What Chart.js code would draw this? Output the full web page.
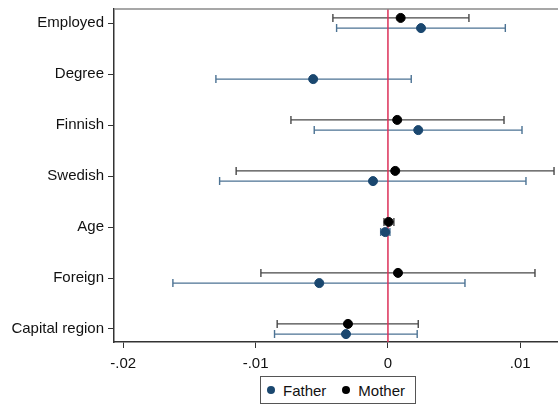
<!DOCTYPE html>
<html>
<head>
<meta charset="utf-8">
<script src="https://cdn.jsdelivr.net/npm/chart.js@4/dist/chart.umd.min.js"></script>
<style>
    body { margin: 0; background: #fff; }
    #wrap { position: relative; width: 558px; height: 406px; }
    #legend {
        position: absolute; left: 260px; top: 376px; width: 156px; height: 28px;
        border: 1px solid #555; box-sizing: border-box; background: #fff;
        font-family: Arial, 'Liberation Sans', sans-serif; font-size: 15px; color: #111;
        display: flex; align-items: center;
    }
    #legend .dot { display: inline-block; width: 8px; height: 8px; border-radius: 50%; margin: 0 8px 0 6px; }
    #legend .item { display: flex; align-items: center; margin-right: 10px; }
</style>
</head>
<body>
<div id="wrap">
    <canvas id="c" width="558" height="406"></canvas>
    <div id="legend">
        <span class="item"><span class="dot" style="background:#1a476f"></span>Father</span>
        <span class="item"><span class="dot" style="background:#000"></span>Mother</span>
    </div>
</div>
<script>
// Coefficient plot: father vs mother estimates with 95% CIs
const categories = ['Employed', 'Degree', 'Finnish', 'Swedish', 'Age', 'Foreign', 'Capital region'];

const fatherEst = [0.0025, -0.00565, 0.00229, -0.00113, -0.0002, -0.00519, -0.00317];
const fatherLo  = [-0.00388, -0.0130, -0.00557, -0.01272, -0.00055, -0.01625, -0.00857];
const fatherHi  = [0.00887, 0.00176, 0.01013, 0.01043, 0.00015, 0.00582, 0.00221];

// Degree has no mother estimate
const motherEst = [0.00096, null, 0.0007, 0.00055, 0.00005, 0.00076, -0.00302];
const motherLo  = [-0.00416, null, -0.00733, -0.01147, -0.0003, -0.0096, -0.00837];
const motherHi  = [0.00612, null, 0.00877, 0.01255, 0.00045, 0.01111, 0.00229];

const xTicks = [-0.02, -0.01, 0, 0.01];
const xTickLabels = ['-.02', '-.01', '0', '.01'];
const refLine = 0;

const FATHER = '#1a476f';
const FATHER_CI = '#4c7394';
const MOTHER = '#000000';
const MOTHER_CI = '#484848';
const OFFSET = 0.1;

function toPoints(est, shift) {
    const pts = [];
    est.forEach((v, i) => { if (v !== null) pts.push({ x: v, y: i + 1 + shift }); });
    return pts;
}

function toBars(est, lo, hi, shift) {
    const bars = [];
    est.forEach((v, i) => { if (v !== null) bars.push({ lo: lo[i], hi: hi[i], y: i + 1 + shift }); });
    return bars;
}

const ciSets = [
    { bars: toBars(motherEst, motherLo, motherHi, -OFFSET), color: MOTHER_CI },
    { bars: toBars(fatherEst, fatherLo, fatherHi, OFFSET), color: FATHER_CI }
];

const ciPlugin = {
    id: 'ci',
    beforeDatasetsDraw(chart) {
        const { ctx, chartArea, scales: { x, y } } = chart;
        ctx.save();
        ctx.beginPath();
        ctx.rect(chartArea.left, chartArea.top, chartArea.right - chartArea.left, chartArea.bottom - chartArea.top);
        ctx.clip();
        ctx.lineWidth = 1.4;
        ciSets.forEach(set => {
            ctx.strokeStyle = set.color;
            set.bars.forEach(b => {
                const x1 = x.getPixelForValue(b.lo), x2 = x.getPixelForValue(b.hi), py = y.getPixelForValue(b.y);
                ctx.beginPath();
                ctx.moveTo(x1, py); ctx.lineTo(x2, py);
                ctx.moveTo(x1, py - 4); ctx.lineTo(x1, py + 4);
                ctx.moveTo(x2, py - 4); ctx.lineTo(x2, py + 4);
                ctx.stroke();
            });
        });
        // reference line at zero
        const zx = x.getPixelForValue(refLine);
        ctx.strokeStyle = '#dc2f58';
        ctx.lineWidth = 1.5;
        ctx.beginPath();
        ctx.moveTo(zx, chartArea.top); ctx.lineTo(zx, chartArea.bottom);
        ctx.stroke();
        ctx.restore();
    },
    afterDraw(chart) {
        const { ctx, chartArea } = chart;
        ctx.save();
        ctx.strokeStyle = '#8a8a8a';
        ctx.lineWidth = 1.5;
        ctx.beginPath();
        ctx.moveTo(chartArea.left, chartArea.top);
        ctx.lineTo(chartArea.right, chartArea.top);
        ctx.stroke();
        ctx.restore();
    }
};

const tickFont = { family: 'Arial, "Liberation Sans", sans-serif', size: 15 };

new Chart(document.getElementById('c'), {
    type: 'scatter',
    data: {
        datasets: [
            { label: 'Father', data: toPoints(fatherEst, OFFSET), backgroundColor: FATHER, borderColor: FATHER, pointRadius: 4.5, pointHoverRadius: 4.5 },
            { label: 'Mother', data: toPoints(motherEst, -OFFSET), backgroundColor: MOTHER, borderColor: MOTHER, pointRadius: 4.5, pointHoverRadius: 4.5 }
        ]
    },
    options: {
        responsive: false,
        animation: false,
        layout: { autoPadding: false, padding: { top: 9, right: 0, left: 0, bottom: 0 } },
        plugins: { legend: { display: false }, tooltip: { enabled: false } },
        scales: {
            x: {
                type: 'linear',
                min: -0.0207,
                max: 0.01285,
                afterBuildTicks: s => { s.ticks = xTicks.map(v => ({ value: v })); },
                afterFit: s => { s.height = 64; s.paddingLeft = 0; s.paddingRight = 0; },
                ticks: {
                    color: '#111',
                    font: tickFont,
                    padding: 7,
                    maxRotation: 0,
                    callback: v => xTickLabels[xTicks.indexOf(v)]
                },
                grid: { display: true, drawOnChartArea: false, drawTicks: true, tickLength: 6, color: '#333', lineWidth: 1 },
                border: { color: '#333', width: 1.5 }
            },
            y: {
                type: 'linear',
                reverse: true,
                min: 0.725,
                max: 7.255,
                afterBuildTicks: s => { s.ticks = categories.map((c, i) => ({ value: i + 1 })); },
                afterFit: s => { s.width = 114; s.paddingTop = 0; s.paddingBottom = 0; },
                ticks: {
                    color: '#111',
                    font: tickFont,
                    padding: 4,
                    callback: v => categories[v - 1]
                },
                grid: { display: true, drawOnChartArea: false, drawTicks: true, tickLength: 6, color: '#333', lineWidth: 1 },
                border: { color: '#333', width: 1.5 }
            }
        }
    },
    plugins: [ciPlugin]
});
</script>
</body>
</html>
